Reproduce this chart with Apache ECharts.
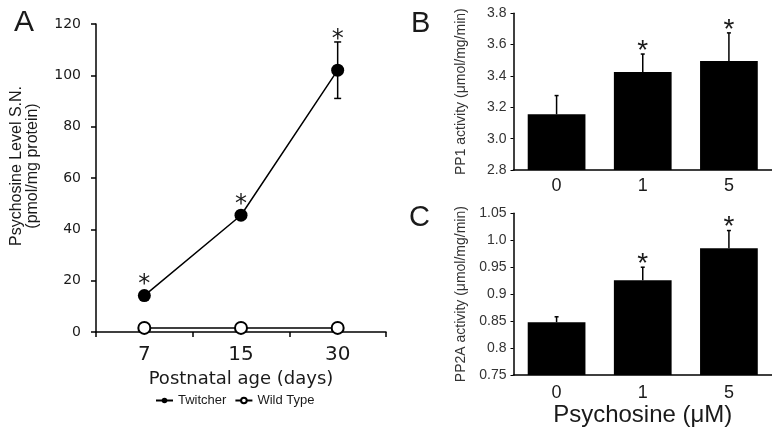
<!DOCTYPE html>
<html>
<head>
<meta charset="utf-8">
<script src="https://cdn.jsdelivr.net/npm/echarts@6/dist/echarts.min.js"></script>
<style>
  html, body { margin: 0; padding: 0; background: #fff; }
  #grafico { width: 772px; height: 432px; }
</style>
</head>
<body>
<div id="grafico"></div>
<script>
// ---- datos ----
const ageDays = ['7', '15', '30'];
const twitcherMean = [14.2, 45.5, 102];
const twitcherErr = [1.5, 1.5, 11];
const twitcherSig = [1, 1, 1];
const wildMean = [1.6, 1.6, 1.6];

const doses = ['0', '1', '5'];
const pp1Mean = [3.155, 3.425, 3.495];
const pp1Err = [0.12, 0.115, 0.18];
const pp1Sig = [0, 1, 1];

const pp2aMean = [0.848, 0.926, 0.985];
const pp2aErr = [0.010, 0.024, 0.033];
const pp2aSig = [0, 1, 1];
const pp2aTicks = ['0.75', '0.8', '0.85', '0.9', '0.95', '1.0', '1.05'];

const ink = '#1a1a1a';
const sansA = 'DejaVu Sans';
const sansB = 'Liberation Sans';

// filas para la serie custom: [indice, media, error, significativo]
const rows = (m, e, s) => m.map((v, i) => [i, v, e[i], s[i]]);

// barras de error + asterisco
// k: distancia del centro del '*' al borde inferior de la caja de texto (en em)
function errorBars(capW, twoSided, markerR, font, size, k) {
    return function (params, api) {
        const i = api.value(0), m = api.value(1), e = api.value(2), s = api.value(3);
        const top = api.coord([i, m + e]);
        const mid = api.coord([i, m]);
        const bot = api.coord([i, twoSided ? m - e : m]);
        const st = { stroke: '#000', lineWidth: 1.5 };
        const kids = [
            { type: 'line', shape: { x1: top[0], y1: top[1], x2: bot[0], y2: bot[1] }, style: st },
            { type: 'line', shape: { x1: top[0] - capW / 2, y1: top[1], x2: top[0] + capW / 2, y2: top[1] }, style: st }
        ];
        if (twoSided) {
            kids.push({ type: 'line', shape: { x1: bot[0] - capW / 2, y1: bot[1], x2: bot[0] + capW / 2, y2: bot[1] }, style: st });
        }
        if (s) {
            const centro = Math.min(top[1], mid[1] - markerR) - 7.5;
            kids.push({
                type: 'text',
                style: {
                    text: '*', x: top[0], y: centro + k * size, align: 'center', verticalAlign: 'bottom',
                    fill: ink, font: size + 'px "' + font + '"'
                }
            });
        }
        return { type: 'group', children: kids };
    };
}

const myChart = echarts.init(document.getElementById('grafico'));

const axisLine = { lineStyle: { color: '#000', width: 1.5 } };

const option = {
    animation: false,
    backgroundColor: '#fff',
    graphic: [
        { type: 'text', left: 14, top: 8, style: { text: 'A', font: '30px "Liberation Sans"', fill: ink } },
        { type: 'text', left: 411, top: 9, style: { text: 'B', font: '29px "Liberation Sans"', fill: ink } },
        { type: 'text', left: 409, top: 203, style: { text: 'C', font: '29px "Liberation Sans"', fill: ink } }
    ],
    legend: {
        left: 150, top: 389,
        itemWidth: 17, itemHeight: 7, itemGap: 8,
        textStyle: { fontFamily: sansB, fontSize: 13, color: ink },
        data: ['Twitcher', 'Wild Type']
    },
    grid: [
        { left: 96, top: 24, width: 290, height: 308 },
        { left: 513.5, top: 13.3, width: 265.5, height: 156.7 },
        { left: 513.5, top: 213.3, width: 265.5, height: 161.7 }
    ],
    xAxis: [
        {
            gridIndex: 0, type: 'category', data: ageDays, boundaryGap: true,
            axisLine: axisLine,
            axisTick: { show: true, length: 5, lineStyle: { color: '#000', width: 1.5 } },
            axisLabel: { fontFamily: sansA, fontSize: 20, color: ink, margin: 13 },
            name: 'Postnatal age (days)', nameLocation: 'middle', nameGap: 34,
            nameTextStyle: { fontFamily: sansA, fontSize: 18, color: ink }
        },
        {
            gridIndex: 1, type: 'category', data: doses,
            axisLine: axisLine, axisTick: { show: false },
            axisLabel: { fontFamily: sansB, fontSize: 18, color: ink, margin: 7 }
        },
        {
            gridIndex: 2, type: 'category', data: doses,
            axisLine: axisLine, axisTick: { show: false },
            axisLabel: { fontFamily: sansB, fontSize: 18, color: ink, margin: 9 },
            name: 'Psychosine (\u03bcM)', nameLocation: 'middle', nameGap: 26,
            nameTextStyle: { fontFamily: sansB, fontSize: 24, color: ink }
        }
    ],
    yAxis: [
        {
            gridIndex: 0, type: 'value', min: 0, max: 120, interval: 20,
            axisLine: { show: true, lineStyle: { color: '#000', width: 1.5 } },
            axisTick: { show: true, length: 5, lineStyle: { color: '#000', width: 1.5 } },
            splitLine: { show: false },
            axisLabel: { fontFamily: sansA, fontSize: 14, color: ink, margin: 15 },
            name: 'Psychosine Level S.N.\n(pmol/mg protein)', nameLocation: 'middle', nameGap: 55,
            nameTextStyle: { fontFamily: sansB, fontSize: 16, lineHeight: 16, color: ink, padding: [0, 0, 0, 24] }
        },
        {
            gridIndex: 1, type: 'value', min: 2.8, max: 3.8, interval: 0.2,
            axisLine: { show: true, lineStyle: { color: '#000', width: 1.5 } },
            axisTick: { show: true, length: 3, lineStyle: { color: '#000' } },
            splitLine: { show: false },
            axisLabel: { fontFamily: sansB, fontSize: 14, color: '#333', margin: 7, formatter: v => v.toFixed(1) },
            name: 'PP1 activity (\u03bcmol/mg/min)', nameLocation: 'middle', nameGap: 45,
            nameTextStyle: { fontFamily: sansB, fontSize: 14, color: '#333' }
        },
        {
            gridIndex: 2, type: 'value', min: 0.75, max: 1.05, interval: 0.05,
            axisLine: { show: true, lineStyle: { color: '#000', width: 1.5 } },
            axisTick: { show: true, length: 3, lineStyle: { color: '#000' } },
            splitLine: { show: false },
            axisLabel: { fontFamily: sansB, fontSize: 14, color: '#333', margin: 7, formatter: (v, i) => pp2aTicks[i] },
            name: 'PP2A activity (\u03bcmol/mg/min)', nameLocation: 'middle', nameGap: 45,
            nameTextStyle: { fontFamily: sansB, fontSize: 14, color: '#333' }
        }
    ],
    series: [
        {
            name: 'Twitcher', type: 'line', xAxisIndex: 0, yAxisIndex: 0,
            data: twitcherMean, symbol: 'circle', symbolSize: 13,
            itemStyle: { color: '#000' }, lineStyle: { color: '#000', width: 1.5 }, z: 4
        },
        {
            name: 'Wild Type', type: 'line', xAxisIndex: 0, yAxisIndex: 0,
            data: wildMean, symbol: 'circle', symbolSize: 12, showAllSymbol: true,
            itemStyle: { color: '#fff', borderColor: '#000', borderWidth: 2 },
            lineStyle: { color: '#000', width: 1.5 }, z: 4
        },
        {
            type: 'custom', xAxisIndex: 0, yAxisIndex: 0, z: 3,
            renderItem: errorBars(7, true, 8, sansA, 24, 0.70),
            data: rows(twitcherMean, twitcherErr, twitcherSig)
        },
        {
            type: 'bar', xAxisIndex: 1, yAxisIndex: 1, data: pp1Mean,
            barCategoryGap: '33%', itemStyle: { color: '#000' }
        },
        {
            type: 'custom', xAxisIndex: 1, yAxisIndex: 1, z: 3,
            renderItem: errorBars(4, false, 0, sansB, 28, 0.68),
            data: rows(pp1Mean, pp1Err, pp1Sig)
        },
        {
            type: 'bar', xAxisIndex: 2, yAxisIndex: 2, data: pp2aMean,
            barCategoryGap: '33%', itemStyle: { color: '#000' }
        },
        {
            type: 'custom', xAxisIndex: 2, yAxisIndex: 2, z: 3,
            renderItem: errorBars(4, false, 0, sansB, 28, 0.66),
            data: rows(pp2aMean, pp2aErr, pp2aSig)
        }
    ]
};

option && myChart.setOption(option);

window.addEventListener('resize', () => {
    myChart.resize();
});
</script>
</body>
</html>
